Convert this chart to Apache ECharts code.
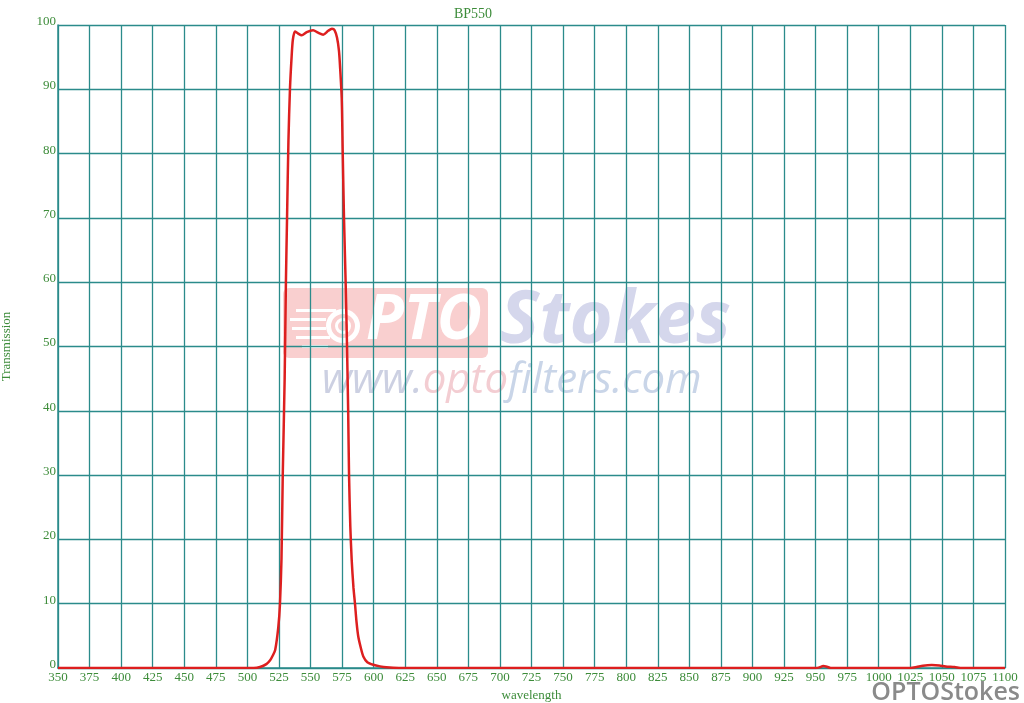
<!DOCTYPE html>
<html>
<head>
<meta charset="utf-8">
<script src="https://cdn.jsdelivr.net/npm/echarts@6/dist/echarts.min.js"></script>
<style>
html,body{margin:0;padding:0;background:#fff;}
#chart{width:1024px;height:703px;}
</style>
</head>
<body>
<div id="chart"></div>
<script>
// Data
var chartTitle = 'BP550';
var wavelengths = [350,500,505,510,515,518,520,522,524.5,525.8,527,528,529.5,530.5,531.4,532.5,533.7,535,536,537.7,540,543,547,552,556,560,564,567,569,571,572.5,573.3,574.7,575.5,576.5,577.8,578.9,579.8,580.5,581.5,582.6,584,585.2,586.5,587.8,590,591.8,595,599.7,605,610,620,950,953,956,959,962,1025,1030,1035,1042,1048,1053,1060,1066,1100];
var transmission = [0,0,0,0.15,0.6,1.2,1.9,2.8,6.4,10,17,30,45,60,70,82,90,95,97.7,99,98.7,98.4,98.9,99.2,98.8,98.5,99.1,99.4,99.2,98,96,93.8,88.6,80,70,60,50,40,30,22,16.8,12.5,10,7,4.9,3,1.8,0.9,0.5,0.25,0.1,0,0,0.1,0.3,0.2,0,0,0.15,0.35,0.45,0.4,0.25,0.15,0,0];
var xMin = 350, xMax = 1100, xStep = 25;
var yMin = 0, yMax = 100, yStep = 10;
var xName = 'wavelength', yName = 'Transmission';

var seriesData = wavelengths.map(function (w, i) { return [w, transmission[i]]; });

var green = '#3d8c3a';
var teal = '#2b8b8b';
var serif = '"Liberation Serif","Times New Roman",serif';

var chart = echarts.init(document.getElementById('chart'));
chart.setOption({
  backgroundColor: '#ffffff',
  animation: false,
  title: {
    text: chartTitle, left: 468, top: 2, textAlign: 'center',
    textStyle: { color: green, fontFamily: serif, fontSize: 14, fontWeight: 'normal' }
  },
  grid: { left: 58, right: 19, top: 25, bottom: 35, containLabel: false, outerBoundsMode: 'none' },
  xAxis: {
    type: 'value', min: xMin, max: xMax, interval: xStep,
    name: xName, nameLocation: 'middle', nameGap: 21,
    nameTextStyle: { color: green, fontFamily: serif, fontSize: 13 },
    axisLine: { show: true, lineStyle: { color: teal, width: 1.5 } },
    axisTick: { show: false },
    axisLabel: { color: green, fontFamily: serif, fontSize: 13, margin: 3, showMinLabel: true, showMaxLabel: true,
      formatter: function (v) { return String(v); } },
    splitLine: { show: true, lineStyle: { color: teal, width: 1.3 } }
  },
  yAxis: {
    type: 'value', min: yMin, max: yMax, interval: yStep,
    name: yName, nameLocation: 'middle', nameGap: 45, nameRotate: 90,
    nameTextStyle: { color: green, fontFamily: serif, fontSize: 13 },
    axisLine: { show: true, lineStyle: { color: teal, width: 1.5 } },
    axisTick: { show: false },
    axisLabel: { color: green, fontFamily: serif, fontSize: 13, margin: 2, verticalAlign: 'bottom', lineHeight: 7,
      formatter: function (v) { return String(v); } },
    splitLine: { show: true, lineStyle: { color: teal, width: 1.3 } }
  },
  graphic: [
    { type: 'rect', z: -10, shape: { x: 283, y: 288, width: 205, height: 70, r: 6 }, style: { fill: '#f9cfcf' } },
    { type: 'ring', z: -9, shape: { cx: 343, cy: 326, r: 17, r0: 12 }, style: { fill: '#ffffff' } },
    { type: 'ring', z: -9, shape: { cx: 343, cy: 326, r: 8, r0: 5 }, style: { fill: '#ffffff' } },
    { type: 'rect', z: -9, shape: { x: 296, y: 309, width: 40, height: 3 }, style: { fill: '#ffffff' } },
    { type: 'rect', z: -9, shape: { x: 290, y: 318, width: 36, height: 3 }, style: { fill: '#ffffff' } },
    { type: 'rect', z: -9, shape: { x: 292, y: 327, width: 34, height: 3 }, style: { fill: '#ffffff' } },
    { type: 'rect', z: -9, shape: { x: 296, y: 336, width: 34, height: 3 }, style: { fill: '#ffffff' } },
    { type: 'rect', z: -9, shape: { x: 302, y: 345, width: 26, height: 3 }, style: { fill: '#ffffff' } },
    { type: 'text', z: -9, left: 366, top: 290, style: { text: 'PTO', fill: '#ffffff', font: 'italic bold 62px "Open Sans", sans-serif' } },
    { type: 'text', z: -9, left: 500, top: 285, style: { text: 'Stokes', fill: '#d5d7ec', font: 'italic bold 74px "Open Sans", sans-serif' } },
    { type: 'text', z: -9, left: 322, top: 360, style: { rich: {
        a: { fill: '#ccd0e2', font: 'italic 42px "Open Sans", sans-serif' },
        b: { fill: '#f3cdd2', font: 'italic 42px "Open Sans", sans-serif' },
        c: { fill: '#c9d5e8', font: 'italic 42px "Open Sans", sans-serif' }
      }, text: '{a|www.}{b|opto}{c|filters.com}' } },
    { type: 'text', right: 4, top: 680, style: { text: 'OPTOStokes', fill: '#8a8a8a', font: '600 25px "Open Sans", sans-serif' } }
  ],
  series: [{
    type: 'line', data: seriesData, showSymbol: false, smooth: 0.25,
    lineStyle: { color: '#dd1f1f', width: 2.5 }, z: 3
  }]
});
</script>
</body>
</html>
